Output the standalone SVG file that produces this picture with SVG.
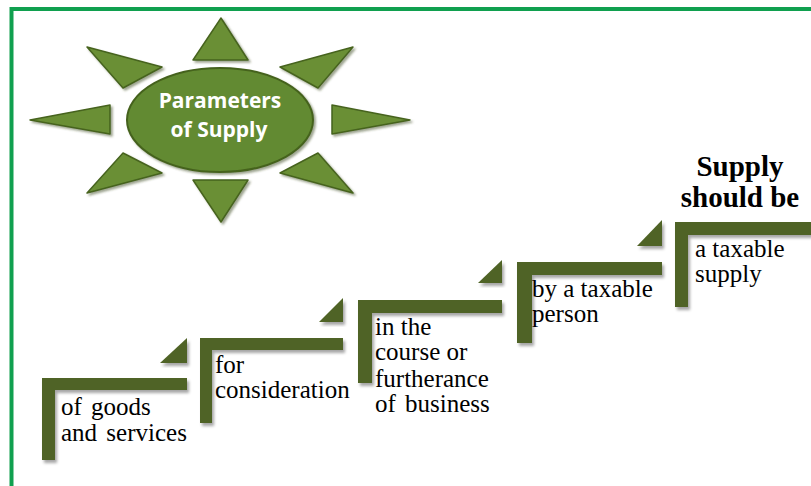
<svg xmlns="http://www.w3.org/2000/svg" width="811" height="486" viewBox="0 0 811 486">
  <defs>
    <filter id="soft" x="-20%" y="-20%" width="140%" height="140%">
      <feDropShadow dx="2" dy="3" stdDeviation="1.6" flood-color="#000" flood-opacity="0.35"/>
    </filter>
    <filter id="sunShadow" x="-20%" y="-20%" width="140%" height="140%">
      <feDropShadow dx="2" dy="2" stdDeviation="1.2" flood-color="#3a4a1c" flood-opacity="0.5"/>
    </filter>
  </defs>
  <style>
    .frame { fill: none; stroke: #10a04f; stroke-width: 4; }
    .ray { fill: #6a8f35; stroke: #46631f; stroke-width: 1.5; stroke-linejoin: round; }
    .hub { fill: #628a30; stroke: #45621f; stroke-width: 2; }
    .hubText { font-family: "Open Sans", "Liberation Sans", sans-serif; font-weight: bold; font-size: 21px; fill: #ffffff; text-anchor: middle; }
    .step { fill: #4f6326; filter: url(#soft); }
    .stepText { font-family: "Liberation Serif", "Times New Roman", serif; font-size: 25px; fill: #000000; }
    .title { font-family: "Liberation Serif", "Times New Roman", serif; font-size: 29px; font-weight: bold; fill: #000000; text-anchor: middle; }
  </style>

  <rect width="811" height="486" fill="#ffffff"/>
  <!-- outer frame, open at the right and bottom edges -->
  <path class="frame" d="M11.5,486 V9 H811"/>

  <!-- sun badge -->
  <g id="sun">
    <g filter="url(#sunShadow)">
      <polygon class="ray" points="221,18 248,60 193,60"/>
      <polygon class="ray" points="193,180 248,180 221,222"/>
      <polygon class="ray" points="30,120 110,105 110,134"/>
      <polygon class="ray" points="410,120 332,105 332,134"/>
      <polygon class="ray" points="87,47 162,67 123,88"/>
      <polygon class="ray" points="353,47 280,67 318,88"/>
      <polygon class="ray" points="123,153 162,173 87,193"/>
      <polygon class="ray" points="318,153 280,173 353,193"/>
      <ellipse class="hub" cx="220" cy="120" rx="93" ry="52"/>
    </g>
    <text class="hubText" x="220" y="108">Parameters</text>
    <text class="hubText" x="219" y="137">of Supply</text>
  </g>

  <!-- staircase steps: an L-shaped tread with a small wedge at its outer end -->
  <g id="step1">
    <path class="step" d="M42,378 H187 V390 H55 V460 H42 Z"/>
    <polygon class="step" points="160,363 187,363 187,338"/>
    <text class="stepText" x="61" y="415" word-spacing="3">of goods</text>
    <text class="stepText" x="61" y="441" word-spacing="3">and services</text>
  </g>

  <g id="step2">
    <path class="step" d="M200,338 H343 V350 H212 V423 H200 Z"/>
    <polygon class="step" points="319,322 343,322 343,298"/>
    <text class="stepText" x="215" y="373">for</text>
    <text class="stepText" x="215" y="398">consideration</text>
  </g>

  <g id="step3">
    <path class="step" d="M358,300 H502 V313 H372 V383 H358 Z"/>
    <polygon class="step" points="478,283 502,283 502,260"/>
    <text class="stepText" x="375" y="335">in the</text>
    <text class="stepText" x="375" y="360">course or</text>
    <text class="stepText" x="375" y="387">furtherance</text>
    <text class="stepText" x="375" y="412" word-spacing="3">of business</text>
  </g>

  <g id="step4">
    <path class="step" d="M517,262 H662 V275 H532 V343 H517 Z"/>
    <polygon class="step" points="637,246 662,246 662,220"/>
    <text class="stepText" x="532" y="297">by a taxable</text>
    <text class="stepText" x="532" y="322">person</text>
  </g>

  <g id="step5">
    <path class="step" d="M675,222 H811 V235 H688 V307 H675 Z"/>
    <text class="stepText" x="695" y="257">a taxable</text>
    <text class="stepText" x="695" y="282">supply</text>
    <text class="title" x="740" y="176">Supply</text>
    <text class="title" x="740" y="207">should be</text>
  </g>
</svg>
